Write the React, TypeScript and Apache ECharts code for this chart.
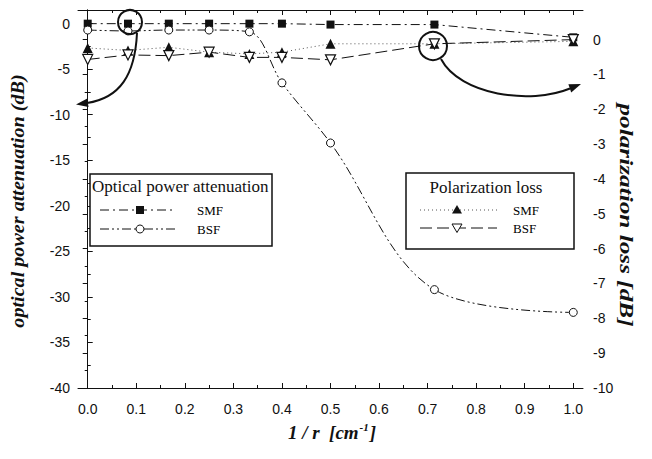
import React, { useEffect, useRef } from "react";
import * as echarts from "echarts";

// 1/r values (cm^-1) for the measured bend radii
const xValues = [0, 0.083, 0.167, 0.25, 0.333, 0.4, 0.5, 0.714, 1.0];
// optical power attenuation (dB), left axis
const smfAttenuation = [0, 0, 0, 0, 0, 0, -0.1, -0.1, -1.5];
const bsfAttenuation = [-0.7, -0.8, -0.7, -0.7, -0.9, -6.5, -13.1, -29.2, -31.7];
// polarization loss (dB), right axis
const smfPolarization = [-0.24, -0.31, -0.22, -0.36, -0.41, -0.36, -0.12, -0.12, -0.05];
const bsfPolarization = [-0.57, -0.44, -0.46, -0.36, -0.51, -0.51, -0.58, -0.12, 0.0];

const xTickValues = [0, 0.1, 0.2, 0.3, 0.4, 0.5, 0.6, 0.7, 0.8, 0.9, 1.0];
const xMinorTickValues = [0.05, 0.15, 0.25, 0.35, 0.45, 0.55, 0.65, 0.75, 0.85, 0.95];

const INK = "#111";
const SERIF = "'Liberation Serif', 'Times New Roman', serif";
const SANS = "'Liberation Sans', Arial, sans-serif";

const pairs = (ys: number[]) => xValues.map((x, i) => [x, ys[i]]);

function xAxisBase(position: "top" | "bottom", ticks: number[], len: number, showLine: boolean, showLabel: boolean) {
  return {
    type: "value",
    position,
    min: -0.02,
    max: 1.02,
    axisLine: { show: showLine, onZero: false, lineStyle: { color: INK, width: 1 } },
    axisTick: { show: true, inside: true, length: len, customValues: ticks, lineStyle: { color: INK, width: 1 } },
    axisLabel: showLabel
      ? {
          show: true,
          customValues: ticks,
          formatter: (v: number) => v.toFixed(1),
          fontSize: 14,
          fontFamily: SANS,
          color: INK,
          margin: 14,
        }
      : { show: false },
    splitLine: { show: false },
  };
}

function legendGraphics() {
  const els: any[] = [];
  const entry = { fontSize: 13, fontFamily: SERIF, fill: "#000", align: "left", verticalAlign: "middle" };
  // left legend: Optical power attenuation
  els.push({ type: "rect", z: 100, shape: { x: 90, y: 174, width: 182, height: 72 }, style: { fill: "#fff", stroke: INK, lineWidth: 1.5 } });
  els.push({ type: "text", z: 101, x: 92, y: 186, style: { text: "Optical power attenuation", fontSize: 17, fontFamily: SERIF, fill: INK, align: "left", verticalAlign: "middle" } });
  els.push({ type: "line", z: 101, shape: { x1: 100, y1: 210, x2: 176, y2: 210 }, style: { stroke: INK, lineWidth: 1, lineDash: [9, 4, 2, 4] } });
  els.push({ type: "rect", z: 102, shape: { x: 136, y: 206, width: 8, height: 8 }, style: { fill: INK } });
  els.push({ type: "text", z: 101, x: 197, y: 210, style: { text: "SMF", ...entry } });
  els.push({ type: "line", z: 101, shape: { x1: 100, y1: 229, x2: 176, y2: 229 }, style: { stroke: INK, lineWidth: 1, lineDash: [9, 3, 2, 3, 2, 3] } });
  els.push({ type: "circle", z: 102, shape: { cx: 140, cy: 229, r: 4 }, style: { fill: "#fff", stroke: INK, lineWidth: 1 } });
  els.push({ type: "text", z: 101, x: 197, y: 229, style: { text: "BSF", ...entry } });

  // right legend: Polarization loss
  els.push({ type: "rect", z: 100, shape: { x: 406, y: 173, width: 168, height: 76 }, style: { fill: "#fff", stroke: INK, lineWidth: 1.5 } });
  els.push({ type: "text", z: 101, x: 486, y: 187, style: { text: "Polarization loss", fontSize: 17, fontFamily: SERIF, fill: INK, align: "center", verticalAlign: "middle" } });
  els.push({ type: "line", z: 101, shape: { x1: 420, y1: 210, x2: 497, y2: 210 }, style: { stroke: "#555", lineWidth: 1, lineDash: [1, 3] } });
  els.push({ type: "polygon", z: 102, shape: { points: [[457, 205], [452, 213.5], [462, 213.5]] }, style: { fill: INK } });
  els.push({ type: "text", z: 101, x: 513, y: 210, style: { text: "SMF", ...entry } });
  els.push({ type: "line", z: 101, shape: { x1: 420, y1: 228, x2: 497, y2: 228 }, style: { stroke: INK, lineWidth: 1, lineDash: [12, 5] } });
  els.push({ type: "polygon", z: 102, shape: { points: [[457, 232.5], [452, 224], [462, 224]] }, style: { fill: "#fff", stroke: INK, lineWidth: 1 } });
  els.push({ type: "text", z: 101, x: 513, y: 228, style: { text: "BSF", ...entry } });
  return els;
}

function annotationGraphics() {
  const els: any[] = [];
  // left highlight circle + arrow to left axis
  els.push({ type: "circle", z: 110, shape: { cx: 130, cy: 22, r: 12 }, style: { fill: "none", stroke: INK, lineWidth: 2 } });
  els.push({ type: "bezierCurve", z: 110, shape: { x1: 137, y1: 33, cpx1: 135, cpy1: 75, cpx2: 120, cpy2: 98, x2: 87, y2: 103 }, style: { fill: "none", stroke: INK, lineWidth: 2 } });
  els.push({ type: "polygon", z: 110, shape: { points: [[76, 104.5], [88.5, 107], [87.3, 98.5]] }, style: { fill: INK } });
  // right highlight circle + arrow to right axis
  els.push({ type: "circle", z: 110, shape: { cx: 433, cy: 46, r: 14 }, style: { fill: "none", stroke: INK, lineWidth: 2 } });
  els.push({ type: "bezierCurve", z: 110, shape: { x1: 441, y1: 59, cpx1: 460, cpy1: 95, cpx2: 530, cpy2: 105, x2: 570, y2: 88.5 }, style: { fill: "none", stroke: INK, lineWidth: 2 } });
  els.push({ type: "polygon", z: 110, shape: { points: [[581, 84], [571.2, 92.5], [568.4, 84.3]] }, style: { fill: INK } });
  return els;
}

function titleGraphics() {
  return [
    {
      type: "text",
      z: 50,
      x: 18,
      y: 201,
      rotation: Math.PI / 2,
      scaleX: 1.06,
      style: { text: "optical power attenuation (dB)", fontSize: 19, fontWeight: "bold", fontStyle: "italic", fontFamily: SERIF, fill: INK, align: "center", verticalAlign: "middle" },
    },
    {
      type: "text",
      z: 50,
      x: 626,
      y: 215,
      rotation: -Math.PI / 2,
      scaleX: 1.33,
      style: { text: "polarization loss [dB]", fontSize: 19, fontWeight: "bold", fontStyle: "italic", fontFamily: SERIF, fill: INK, align: "center", verticalAlign: "middle" },
    },
    {
      type: "text",
      z: 50,
      x: 332,
      y: 432,
      style: {
        text: "{a|1 / r  [cm}{s|-1}{a|]}",
        align: "center",
        verticalAlign: "middle",
        rich: {
          a: { fontSize: 19, fontWeight: "bold", fontStyle: "italic", fontFamily: SERIF, fill: INK },
          s: { fontSize: 11, fontWeight: "bold", fontStyle: "italic", fontFamily: SERIF, fill: INK, padding: [0, 1, 10, 1] },
        },
      },
    },
  ];
}

export default function App() {
  const ref = useRef<HTMLDivElement>(null);
  useEffect(() => {
    if (!ref.current) return;
    const chart = echarts.init(ref.current, undefined, { renderer: "svg" });
    const yAxisCommon = {
      type: "value",
      axisLine: { show: true, lineStyle: { color: INK, width: 1 } },
      axisTick: { show: true, inside: true, length: 5, lineStyle: { color: INK, width: 1 } },
      minorTick: { show: true, splitNumber: 2, length: 3, lineStyle: { color: INK, width: 1 } },
      splitLine: { show: false },
      minorSplitLine: { show: false },
    };
    chart.setOption({
      animation: false,
      backgroundColor: "#fff",
      grid: { left: 78, right: 69, top: 10, bottom: 71, containLabel: false },
      xAxis: [
        xAxisBase("bottom", xTickValues, 5, true, true),
        xAxisBase("bottom", xMinorTickValues, 3, false, false),
        xAxisBase("top", xTickValues, 5, true, false),
        xAxisBase("top", xMinorTickValues, 3, false, false),
      ],
      yAxis: [
        {
          ...yAxisCommon,
          position: "left",
          min: -40,
          max: 1.5,
          interval: 5,
          axisLabel: { showMaxLabel: false, fontSize: 14, fontFamily: SANS, color: INK, margin: 8 },
        },
        {
          ...yAxisCommon,
          position: "right",
          min: -10,
          max: 0.85,
          interval: 1,
          axisLabel: { showMaxLabel: false, fontSize: 14, fontFamily: SANS, color: INK, margin: 10 },
        },
      ],
      series: [
        {
          name: "SMF attenuation",
          type: "line",
          xAxisIndex: 0,
          yAxisIndex: 0,
          data: pairs(smfAttenuation),
          symbol: "rect",
          symbolSize: 8,
          itemStyle: { color: INK },
          lineStyle: { color: INK, width: 1, type: [9, 4, 2, 4] },
          z: 3,
        },
        {
          name: "BSF attenuation",
          type: "line",
          xAxisIndex: 0,
          yAxisIndex: 0,
          data: pairs(bsfAttenuation),
          smooth: 0.35,
          symbol: "circle",
          symbolSize: 8,
          itemStyle: { color: "#fff", borderColor: INK, borderWidth: 1 },
          lineStyle: { color: INK, width: 1, type: [9, 3, 2, 3, 2, 3] },
          z: 3,
        },
        {
          name: "SMF polarization",
          type: "line",
          xAxisIndex: 0,
          yAxisIndex: 1,
          data: pairs(smfPolarization),
          symbol: "triangle",
          symbolSize: 10,
          itemStyle: { color: INK },
          lineStyle: { color: "#555", width: 1, type: [1, 3] },
          z: 4,
        },
        {
          name: "BSF polarization",
          type: "line",
          xAxisIndex: 0,
          yAxisIndex: 1,
          data: pairs(bsfPolarization),
          symbol: "triangle",
          symbolRotate: 180,
          symbolSize: 10,
          itemStyle: { color: "#fff", borderColor: INK, borderWidth: 1.2 },
          lineStyle: { color: INK, width: 1, type: [12, 5] },
          z: 4,
        },
      ],
      graphic: [...titleGraphics(), ...legendGraphics(), ...annotationGraphics()],
    });
    return () => chart.dispose();
  }, []);
  return <div ref={ref} style={{ width: 652, height: 459, position: "absolute", left: 0, top: 0 }} />;
}
